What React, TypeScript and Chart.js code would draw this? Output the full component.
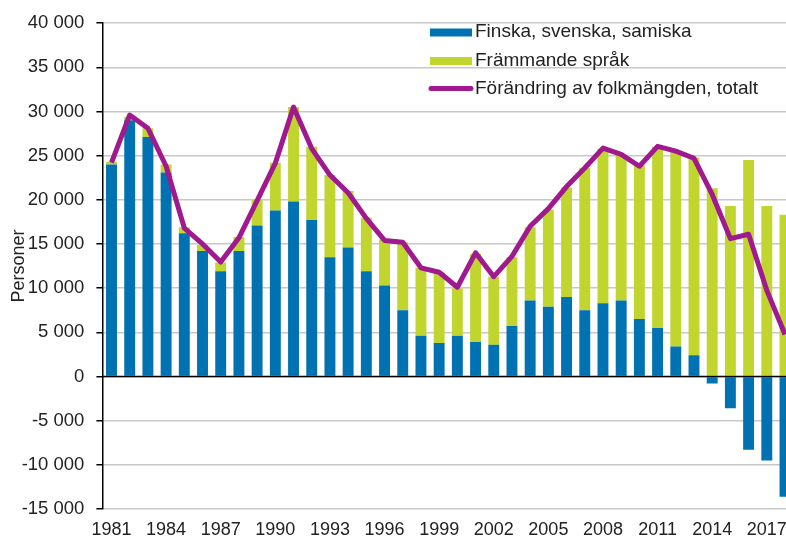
import React, { useEffect, useRef } from 'react';
import { Chart, registerables } from 'chart.js';

Chart.register(...registerables);

const years = [
  '1981', '1982', '1983', '1984', '1985', '1986', '1987', '1988', '1989', '1990',
  '1991', '1992', '1993', '1994', '1995', '1996', '1997', '1998', '1999', '2000',
  '2001', '2002', '2003', '2004', '2005', '2006', '2007', '2008', '2009', '2010',
  '2011', '2012', '2013', '2014', '2015', '2016', '2017', '2018',
];

const shownYears = ['1981', '1984', '1987', '1990', '1993', '1996', '1999', '2002', '2005', '2008', '2011', '2014', '2017'];

const nationalLanguages = [
  24000, 29000, 27100, 23100, 16200, 14200, 11900, 14200, 17100, 18800,
  19800, 17700, 13500, 14600, 11900, 10300, 7500, 4600, 3800, 4600,
  3900, 3600, 5700, 8600, 7900, 9000, 7500, 8300, 8600, 6500,
  5500, 3400, 2400, -800, -3600, -8300, -9500, -13600,
];

const foreignLanguages = [
  300, 400, 1000, 900, 700, 700, 1000, 1600, 2900, 5400,
  10700, 8300, 9300, 6400, 6100, 5200, 7700, 7700, 8000, 5400,
  10000, 7700, 7800, 8300, 11000, 12400, 16100, 17500, 16500, 17400,
  20500, 22000, 22400, 21300, 19300, 24500, 19300, 18300,
];

const totalChange = [
  24200, 29600, 28100, 23800, 16800, 15000, 12950, 15700, 19900, 24150,
  30500, 25800, 22800, 20800, 17900, 15400, 15200, 12300, 11800, 10100,
  14000, 11300, 13600, 17000, 19000, 21500, 23600, 25850, 25150, 23800,
  26050, 25500, 24700, 20600, 15600, 16100, 9750, 4750,
];

const BLUE = '#0072b1';
const GREEN = '#c1d52f';
const PURPLE = '#a1198f';
const FONT = "'Liberation Sans', Arial, sans-serif";
const TEXT = '#222222';

const fmt = (v: number) => {
  const s = Math.abs(v).toString().replace(/\B(?=(\d{3})+(?!\d))/g, ' ');
  return v < 0 ? '-' + s : s;
};

const zeroLinePlugin = {
  id: 'zeroLine',
  afterDatasetsDraw(chart: any) {
    const { ctx, chartArea, scales } = chart;
    const y = Math.round(scales.y.getPixelForValue(0)) + 0.5;
    ctx.save();
    ctx.strokeStyle = '#000';
    ctx.lineWidth = 1.5;
    ctx.beginPath();
    ctx.moveTo(chartArea.left, y);
    ctx.lineTo(chartArea.right, y);
    ctx.stroke();
    ctx.restore();
  },
};

const insideLegendPlugin = {
  id: 'insideLegend',
  afterDraw(chart: any) {
    const { ctx } = chart;
    const x0 = 430;
    const symW = 42;
    const textX = 475;
    const rows = [
      { sym: 32.5, base: 37 },
      { sym: 61, base: 65.5 },
      { sym: 88.5, base: 94 },
    ];
    ctx.save();
    ctx.font = `19px ${FONT}`;
    ctx.textBaseline = 'alphabetic';
    ctx.textAlign = 'left';
    chart.data.datasets.forEach((ds: any, i: number) => {
      const r = rows[i];
      if (ds.type === 'line') {
        ctx.strokeStyle = ds.borderColor;
        ctx.lineWidth = 5;
        ctx.lineCap = 'round';
        ctx.beginPath();
        ctx.moveTo(x0 + 1, r.sym);
        ctx.lineTo(x0 + symW - 1, r.sym);
        ctx.stroke();
      } else {
        ctx.fillStyle = ds.backgroundColor;
        ctx.fillRect(x0, r.sym - 4, symW, 8);
      }
      ctx.fillStyle = TEXT;
      ctx.fillText(ds.label, textX, r.base);
    });
    ctx.restore();
  },
};

export default function App() {
  const ref = useRef<HTMLCanvasElement | null>(null);

  useEffect(() => {
    if (!ref.current) return;
    const chart = new Chart(ref.current, {
      type: 'bar',
      data: {
        labels: years,
        datasets: [
          {
            type: 'bar',
            label: 'Finska, svenska, samiska',
            data: nationalLanguages,
            backgroundColor: BLUE,
            stack: 'bars',
            order: 2,
            barPercentage: 0.6,
            categoryPercentage: 1,
          },
          {
            type: 'bar',
            label: 'Främmande språk',
            data: foreignLanguages,
            backgroundColor: GREEN,
            stack: 'bars',
            order: 2,
            barPercentage: 0.6,
            categoryPercentage: 1,
          },
          {
            type: 'line',
            label: 'Förändring av folkmängden, totalt',
            data: totalChange,
            borderColor: PURPLE,
            backgroundColor: PURPLE,
            borderWidth: 5,
            pointRadius: 0,
            tension: 0,
            borderJoinStyle: 'round',
            borderCapStyle: 'butt',
            stack: 'line',
            order: 0,
          } as any,
        ],
      },
      options: {
        responsive: false,
        animation: false,
        devicePixelRatio: 1,
        layout: { padding: { top: 21, left: 0, right: 0, bottom: 0 } },
        plugins: {
          legend: { display: false },
          tooltip: { enabled: false },
        },
        scales: {
          x: {
            stacked: true,
            afterFit: (scale: any) => {
              scale.height = 32;
            },
            grid: { display: false, drawTicks: false },
            border: { display: false },
            ticks: {
              autoSkip: false,
              maxRotation: 0,
              minRotation: 0,
              padding: 10,
              color: TEXT,
              font: { family: FONT, size: 18 },
              callback: function (this: any, _v: any, idx: number) {
                const y = years[idx];
                return shownYears.includes(y) ? y : '';
              },
            },
          },
          y: {
            stacked: true,
            min: -15000,
            max: 40000,
            afterFit: (scale: any) => {
              scale.width = 102.4;
            },
            ticks: {
              stepSize: 5000,
              padding: 12,
              color: TEXT,
              font: { family: FONT, size: 18.5 },
              callback: (v: any) => fmt(Number(v)),
            },
            grid: {
              color: '#c8c8c8',
              lineWidth: 1.5,
              drawTicks: true,
              tickLength: 6,
              tickColor: '#000',
              tickWidth: 1.5,
            },
            border: { display: true, color: '#000', width: 1.5 },
            title: {
              display: true,
              text: 'Personer',
              color: TEXT,
              font: { family: FONT, size: 18 },
              padding: { top: 8, bottom: 0 },
            },
          },
        },
      },
      plugins: [zeroLinePlugin, insideLegendPlugin],
    });
    return () => chart.destroy();
  }, []);

  return (
    <div
      style={{
        position: 'fixed',
        left: 0,
        top: 0,
        width: 786,
        height: 541,
        overflow: 'hidden',
        background: '#fff',
      }}
    >
      <canvas ref={ref} width={795} height={541} style={{ display: 'block', width: 795, height: 541 }} />
    </div>
  );
}
